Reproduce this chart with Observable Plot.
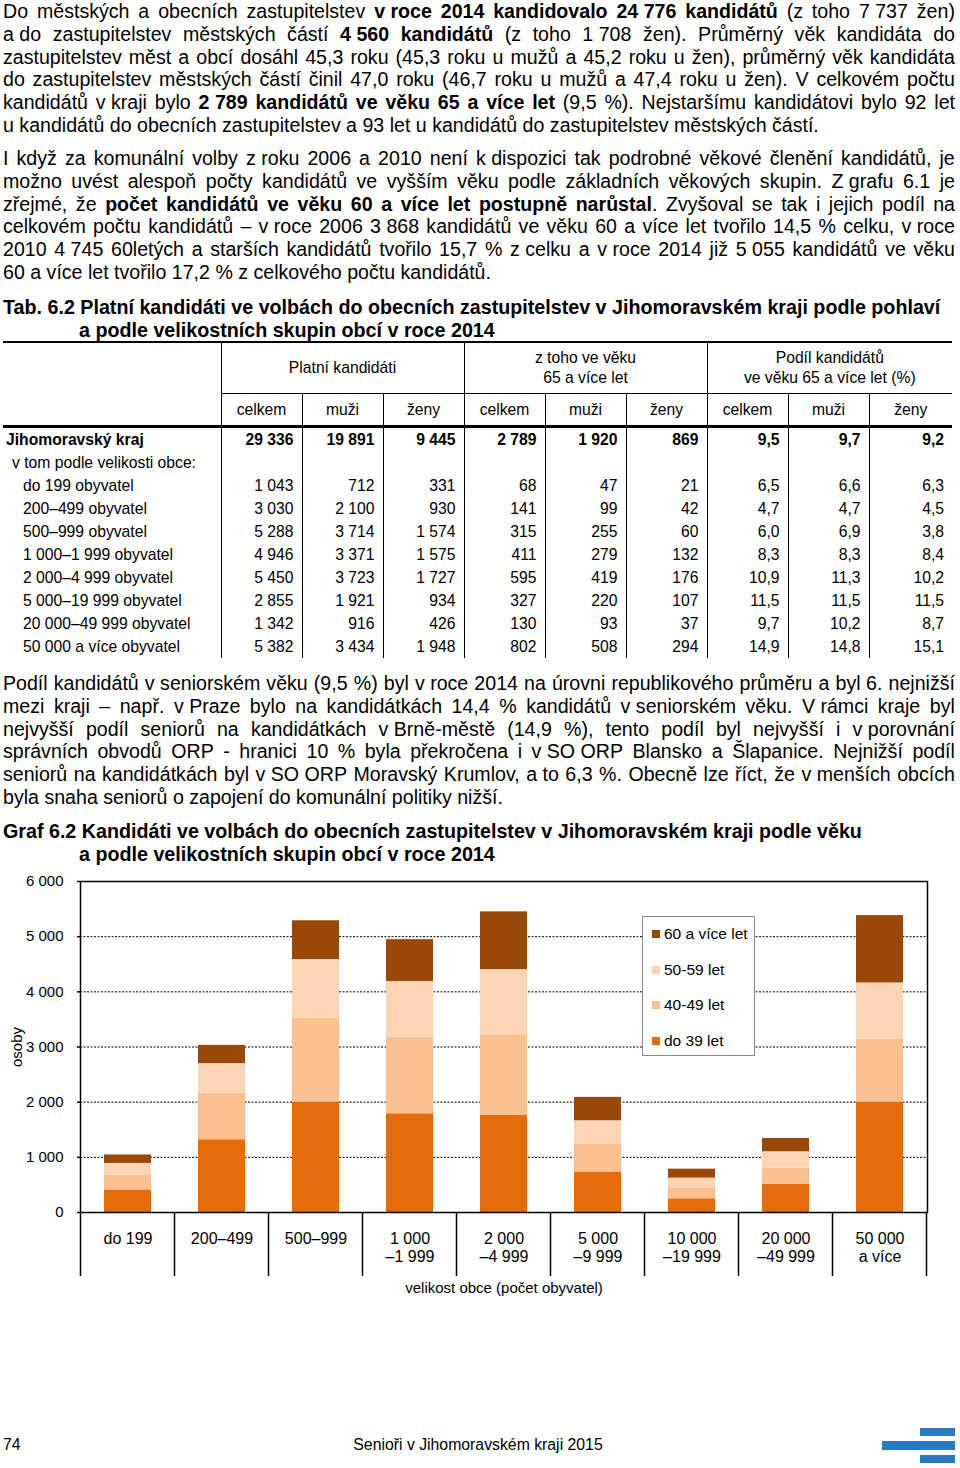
<!DOCTYPE html>
<html><head><meta charset="utf-8">
<script src="https://cdn.jsdelivr.net/npm/d3@7"></script>
<script src="https://cdn.jsdelivr.net/npm/@observablehq/plot@0.6"></script>
<style>
html,body{margin:0;padding:0;background:#fff;}
#page{position:relative;width:960px;height:1468px;overflow:hidden;font-family:"Liberation Sans",Arial,sans-serif;color:#000;}
.para{position:absolute;left:3px;width:952px;font-size:19.6px;}
.line{display:flex;justify-content:space-between;height:22.8px;line-height:22.8px;white-space:pre;}
.line.last{display:block;}
.title{position:absolute;left:3px;font-size:19.7px;font-weight:bold;line-height:22.8px;white-space:pre;}
.title .l2{padding-left:76px;}
table.t{position:absolute;left:3px;top:341px;width:949px;border-collapse:collapse;table-layout:fixed;font-size:15.7px;}
table.t th{font-weight:normal;text-align:center;padding:0;}
table.t tr.h1 th{height:50px;line-height:20px;border-top:2px solid #000;}
table.t tr.h2 th{height:31px;border-bottom:3px solid #000;}
table.t td{height:23px;line-height:23px;padding:0 8px 0 0;text-align:right;white-space:nowrap;}
table.t td.lab{text-align:left;padding:0;}
table.t .br{border-right:1px solid #000;}
table.t .bb{border-bottom:1px solid #000;}
table.t .b3{border-bottom:3px solid #000;}
table.t tr.kraj td{font-weight:bold;}
#chart{position:absolute;left:0;top:868px;}
#legend{position:absolute;left:642px;top:916px;width:113px;height:140px;border:1.5px solid #8c8c8c;background:#fff;box-sizing:border-box;font-size:15.5px;}
#legend .it{position:absolute;left:9px;height:18px;line-height:18px;white-space:nowrap;}
#legend .sw{display:inline-block;width:8px;height:8px;margin-right:4px;vertical-align:1px;}
.foot{position:absolute;font-size:15.8px;line-height:18px;}
.logo{position:absolute;background:#2b7bc4;}
</style></head>
<body><div id="page"></div>
<script>
// ---------- chart data ----------
const categories = ["do 199","200–499","500–999","1 000\n–1 999","2 000\n–4 999","5 000\n–9 999","10 000\n–19 999","20 000\n–49 999","50 000\na více"];
const ages = ["do 39 let","40-49 let","50-59 let","60 a více let"];
const ageColors = ["#e46c0a","#fac090","#fcd5b5","#984807"];
const do39 = [411, 1319, 2002, 1790, 1760, 726, 248, 514, 2002];
const a4049 = [260, 846, 1518, 1385, 1464, 508, 187, 290, 1137];
const a5059 = [218, 533, 1065, 1011, 1179, 429, 188, 297, 1022];
const a60plus = [154, 332, 703, 760, 1047, 424, 163, 241, 1221];
const yTicks = [0, 1000, 2000, 3000, 4000, 5000, 6000];
const yLabel = "osoby";
const xLabel = "velikost obce (počet obyvatel)";

// ---------- table data ----------
const rowLabels = ["do 199 obyvatel","200–499 obyvatel","500–999 obyvatel","1 000–1 999 obyvatel","2 000–4 999 obyvatel","5 000–19 999 obyvatel","20 000–49 999 obyvatel","50 000 a více obyvatel"];
const platCelkem = [1043, 3030, 5288, 4946, 5450, 2855, 1342, 5382];
const platMuzi = [712, 2100, 3714, 3371, 3723, 1921, 916, 3434];
const platZeny = [331, 930, 1574, 1575, 1727, 934, 426, 1948];
const s65Celkem = [68, 141, 315, 411, 595, 327, 130, 802];
const s65Muzi = [47, 99, 255, 279, 419, 220, 93, 508];
const s65Zeny = [21, 42, 60, 132, 176, 107, 37, 294];
const podilCelkem = [6.5, 4.7, 6.0, 8.3, 10.9, 11.5, 9.7, 14.9];
const podilMuzi = [6.6, 4.7, 6.9, 8.3, 11.3, 11.5, 10.2, 14.8];
const podilZeny = [6.3, 4.5, 3.8, 8.4, 10.2, 11.5, 8.7, 15.1];
const krajRow = [29336, 19891, 9445, 2789, 1920, 869, 9.5, 9.7, 9.2];

const loc = d3.formatLocale({decimal: ",", thousands: " ", grouping: [3], currency: ["", ""]});
const fInt = loc.format(",d");
const fDec = loc.format(",.1f");

// ---------- texts ----------
const N = "\u00a0";
const para1 = [
 `Do městských a obecních zastupitelstev **v${N}roce 2014 kandidovalo 24${N}776 kandidátů** (z toho 7${N}737 žen)`,
 `a${N}do zastupitelstev městských částí **4${N}560 kandidátů** (z toho 1${N}708 žen). Průměrný věk kandidáta do`,
 `zastupitelstev měst a obcí dosáhl 45,3 roku (45,3 roku u mužů a 45,2 roku u žen), průměrný věk kandidáta`,
 `do zastupitelstev městských částí činil 47,0 roku (46,7 roku u mužů a 47,4 roku u žen). V celkovém počtu`,
 `kandidátů v${N}kraji bylo **2${N}789 kandidátů ve věku 65 a více let** (9,5 %). Nejstaršímu kandidátovi bylo 92 let`,
 `u kandidátů do obecních zastupitelstev a 93 let u kandidátů do zastupitelstev městských částí.`
];
const para2 = [
 `I když za komunální volby z${N}roku 2006 a 2010 není k${N}dispozici tak podrobné věkové členění kandidátů, je`,
 `možno uvést alespoň počty kandidátů ve vyšším věku podle základních věkových skupin. Z${N}grafu 6.1 je`,
 `zřejmé, že **počet kandidátů ve věku 60 a více let postupně narůstal**. Zvyšoval se tak i jejich podíl na`,
 `celkovém počtu kandidátů – v${N}roce 2006 3${N}868 kandidátů ve věku 60 a více let tvořilo 14,5 % celku, v${N}roce`,
 `2010 4${N}745 60letých a starších kandidátů tvořilo 15,7 % z${N}celku a v${N}roce 2014 již 5${N}055 kandidátů ve věku`,
 `60 a více let tvořilo 17,2 % z${N}celkového počtu kandidátů.`
];
const para3 = [
 `Podíl kandidátů v${N}seniorském věku (9,5 %) byl v${N}roce 2014 na úrovni republikového průměru a byl${N}6. nejnižší`,
 `mezi kraji – např. v${N}Praze bylo na kandidátkách 14,4 % kandidátů v${N}seniorském věku. V${N}rámci kraje byl`,
 `nejvyšší podíl seniorů na kandidátkách v${N}Brně-městě (14,9 %), tento podíl byl nejvyšší i v${N}porovnání`,
 `správních obvodů ORP - hranici 10 % byla překročena i v${N}SO${N}ORP Blansko a Šlapanice. Nejnižší podíl`,
 `seniorů na kandidátkách byl v${N}SO${N}ORP Moravský Krumlov, a${N}to 6,3 %. Obecně lze říct, že v${N}menších obcích`,
 `byla snaha seniorů o zapojení do komunální politiky nižší.`
];
const tabTitle = ["Tab. 6.2 Platní kandidáti ve volbách do obecních zastupitelstev v Jihomoravském kraji podle pohlaví", "a podle velikostních skupin obcí v roce 2014"];
const grafTitle = ["Graf 6.2 Kandidáti ve volbách do obecních zastupitelstev v Jihomoravském kraji podle věku", "a podle velikostních skupin obcí v roce 2014"];

const page = document.getElementById("page");

function tokenHTML(tok, st) {
  const parts = tok.split("**");
  let html = "";
  parts.forEach((p, i) => {
    if (i > 0) st.bold = !st.bold;
    if (p) html += st.bold ? `<b>${p}</b>` : p;
  });
  return html;
}
function addPara(lines, top) {
  const d = document.createElement("div");
  d.className = "para";
  d.style.top = top + "px";
  const st = {bold: false};
  lines.forEach((ln, i) => {
    const l = document.createElement("div");
    if (i === lines.length - 1) {
      l.className = "line last";
      l.innerHTML = tokenHTML(ln, st);
    } else {
      l.className = "line";
      l.innerHTML = ln.split(" ").map(t => `<span>${tokenHTML(t, st)}</span>`).join("");
    }
    d.appendChild(l);
  });
  page.appendChild(d);
}
function addTitle(lines, top) {
  const d = document.createElement("div");
  d.className = "title";
  d.style.top = top + "px";
  d.innerHTML = `<div>${lines[0]}</div><div class="l2">${lines[1]}</div>`;
  page.appendChild(d);
}
addPara(para1, 0);
addPara(para2, 147);
addTitle(tabTitle, 296);
addPara(para3, 672);
addTitle(grafTitle, 820);

// ---------- table ----------
const cw = [218, 81, 81, 81, 81, 81, 81, 81, 81, 83];
let th = `<table class="t"><colgroup>${cw.map(w => `<col style="width:${w}px">`).join("")}</colgroup>`;
th += `<tr class="h1"><th rowspan="2" class="br b3"></th><th colspan="3" class="br bb">Platní kandidáti</th><th colspan="3" class="br bb">z toho ve věku<br>65 a více let</th><th colspan="3" class="bb">Podíl kandidátů<br>ve věku 65 a více let (%)</th></tr>`;
const sub = ["celkem", "muži", "ženy"];
th += `<tr class="h2">${[0,1,2].map(g => sub.map((s, j) => `<th class="${g===2 && j===2 ? "" : "br"}">${s}</th>`).join("")).join("")}</tr>`;
const cell = (v, last) => `<td class="${last ? "" : "br"}">${v}</td>`;
const fmtRow = r => r.map((v, i) => i < 6 ? fInt(v) : fDec(v));
th += `<tr class="kraj"><td class="lab br" style="padding-left:3px">Jihomoravský kraj</td>${fmtRow(krajRow).map((v,i)=>cell(v, i===8)).join("")}</tr>`;
th += `<tr><td class="lab br" style="padding-left:9px">v tom podle velikosti obce:</td>${Array.from({length:9},(_, i)=>cell("", i===8)).join("")}</tr>`;
rowLabels.forEach((lab, k) => {
  const r = [platCelkem[k], platMuzi[k], platZeny[k], s65Celkem[k], s65Muzi[k], s65Zeny[k], podilCelkem[k], podilMuzi[k], podilZeny[k]];
  th += `<tr><td class="lab br" style="padding-left:20px">${lab}</td>${fmtRow(r).map((v,i)=>cell(v, i===8)).join("")}</tr>`;
});
th += `</table>`;
page.insertAdjacentHTML("beforeend", th);

// ---------- chart ----------
const series = [do39, a4049, a5059, a60plus];
const rows = [];
categories.forEach((c, i) => ages.forEach((a, j) => rows.push({cat: c, age: a, value: series[j][i]})));

const chart = Plot.plot({
  width: 960, height: 432,
  marginLeft: 80, marginRight: 33, marginTop: 13, marginBottom: 88,
  style: {fontFamily: '"Liberation Sans", Arial, sans-serif', fontSize: "15px", color: "#000", background: "transparent", overflow: "visible"},
  x: {domain: categories, paddingInner: 0.5, paddingOuter: 0.25, axis: null},
  y: {domain: [0, 6000], axis: null},
  color: {domain: ages, range: ageColors},
  marks: [
    Plot.ruleY(yTicks.filter(d => d > 0 && d < 6000), {stroke: "#000", strokeWidth: 1, strokeDasharray: "2,1.5"}),
    Plot.barY(rows, {x: "cat", y: "value", fill: "age"}),
    Plot.frame({stroke: "#000", strokeWidth: 1.5}),
    Plot.axisY({ticks: yTicks, tickSize: 3, tickPadding: 14, tickFormat: fInt, fontSize: 15, label: null, strokeWidth: 1.5}),
    Plot.text([yLabel], {frameAnchor: "left", rotate: -90, dx: -63, fontSize: 15, textAnchor: "middle", lineAnchor: "middle", letterSpacing: "0.12em"}),
    Plot.ruleX(categories, {x: d => d, render: (index, scales) => {
      const x = scales.x, y0 = scales.y(0);
      const step = x(categories[1]) - x(categories[0]);
      const bounds = categories.map(c => x(c) - step / 4);
      bounds.push(x(categories[categories.length - 1]) + step * 0.75);
      const g = d3.create("svg:g");
      for (const b of bounds) g.append("line").attr("x1", b).attr("x2", b).attr("y1", y0).attr("y2", y0 + 64).attr("stroke", "#000").attr("stroke-width", 1.5);
      return g.node();
    }}),
    Plot.text(categories, {x: d => d, y: 0, text: d => d, dy: 19, lineAnchor: "top", lineHeight: 1.125, fontSize: 16}),
    Plot.text([xLabel], {frameAnchor: "bottom", dy: 76, fontSize: 15, lineAnchor: "middle"})
  ]
});
const cdiv = document.createElement("div");
cdiv.id = "chart";
cdiv.appendChild(chart);
page.appendChild(cdiv);

// legend (top-to-bottom order as in the reference)
const lg = document.createElement("div");
lg.id = "legend";
const legendOrder = [3, 2, 1, 0];
const legendY = [8, 44, 79, 115];
legendOrder.forEach((k, i) => {
  const it = document.createElement("div");
  it.className = "it";
  it.style.top = legendY[i] + "px";
  it.innerHTML = `<span class="sw" style="background:${ageColors[k]}"></span>${ages[k]}`;
  lg.appendChild(it);
});
page.appendChild(lg);

// footer
page.insertAdjacentHTML("beforeend", `<div class="foot" style="left:3px;top:1436px">74</div><div class="foot" style="left:0;width:956px;text-align:center;top:1436px">Senioři v Jihomoravském kraji 2015</div>
<div class="logo" style="left:920px;top:1428px;width:35px;height:8px"></div>
<div class="logo" style="left:882px;top:1441px;width:73px;height:9px"></div>
<div class="logo" style="left:920px;top:1455px;width:35px;height:8px"></div>`);
</script>
</body></html>
